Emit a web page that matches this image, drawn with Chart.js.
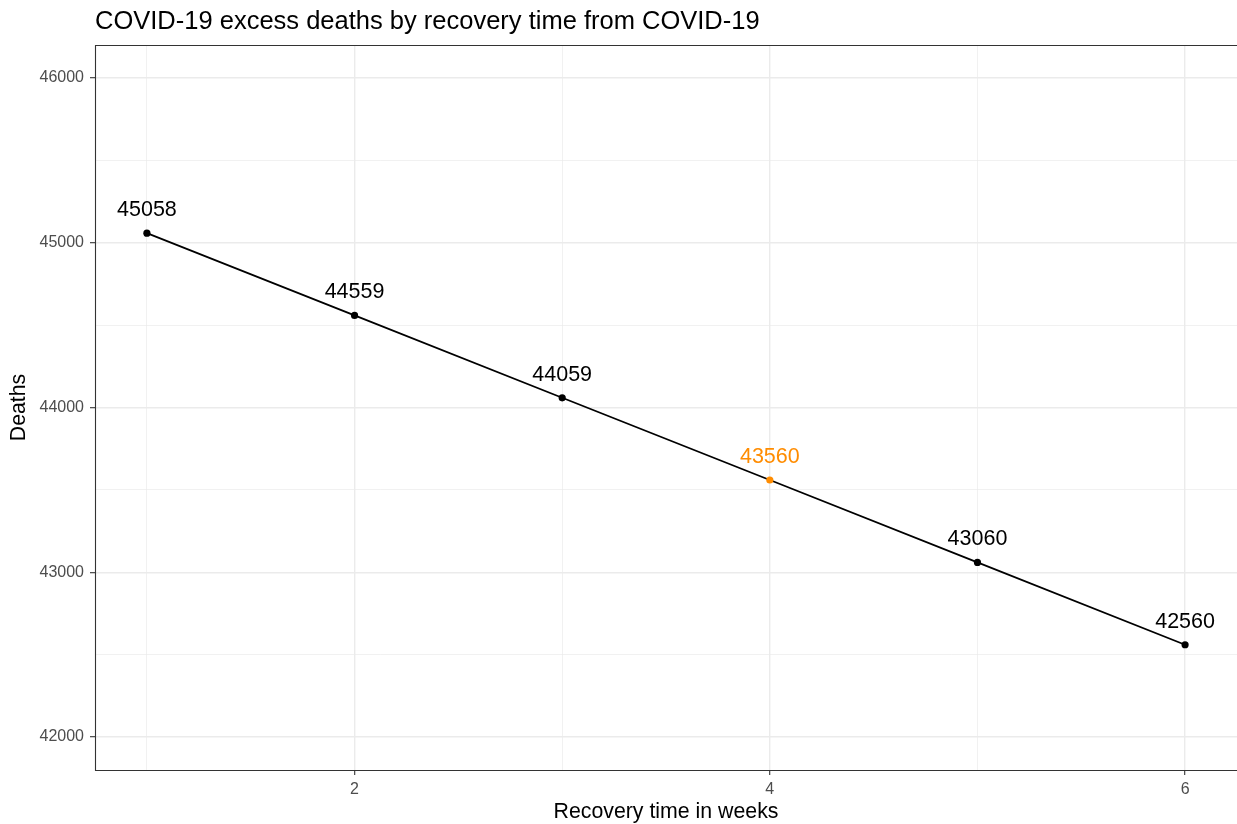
<!DOCTYPE html>
<html>
<head>
<meta charset="utf-8">
<script src="https://cdn.jsdelivr.net/npm/chart.js@4"></script>
<style>
  html, body { margin: 0; padding: 0; background: #fff; }
  canvas { display: block; }
</style>
</head>
<body>
<canvas id="lineChart" width="1237" height="824"></canvas>
<script>
// data
var weeks = [1, 2, 3, 4, 5, 6];
var deaths = [45058, 44559, 44059, 43560, 43060, 42560];
var highlightWeek = 4;
var xMajor = [2, 4, 6];
var xMinor = [1, 3, 5];
var yMajor = [42000, 43000, 44000, 45000, 46000];
var yMinor = [42500, 43500, 44500, 45500];

var FONT = "'Liberation Sans', Arial, sans-serif";
var ORANGE = 'rgb(255, 140, 0)';

var pointColors = weeks.map(function (w) { return w === highlightWeek ? ORANGE : '#000'; });

function byNum(a, b) { return a - b; }

var ggExtras = {
    id: 'ggExtras',
    afterDraw: function (chart) {
        var ctx = chart.ctx;
        var a = chart.chartArea;
        var meta = chart.getDatasetMeta(0);
        ctx.save();
        // panel border (right side falls off the canvas in the original)
        ctx.strokeStyle = '#333333';
        ctx.lineWidth = 1.1;
        ctx.beginPath();
        ctx.moveTo(chart.width, a.top + 0.5);
        ctx.lineTo(a.left + 0.5, a.top + 0.5);
        ctx.lineTo(a.left + 0.5, a.bottom + 0.5);
        ctx.lineTo(chart.width, a.bottom + 0.5);
        ctx.stroke();
        // value labels
        ctx.font = '21.5px ' + FONT;
        ctx.textAlign = 'center';
        ctx.textBaseline = 'middle';
        meta.data.forEach(function (pt, i) {
            ctx.fillStyle = pointColors[i];
            ctx.fillText(String(deaths[i]), pt.x, pt.y - 23);
        });
        // title
        ctx.fillStyle = '#000';
        ctx.textAlign = 'left';
        ctx.font = '25.5px ' + FONT;
        ctx.fillText('COVID-19 excess deaths by recovery time from COVID-19', 95, 22);
        // axis titles
        ctx.font = '21.3px ' + FONT;
        ctx.textAlign = 'center';
        ctx.fillText('Recovery time in weeks', (a.left + a.right) / 2, 812);
        ctx.translate(19, (a.top + a.bottom) / 2);
        ctx.rotate(-Math.PI / 2);
        ctx.fillText('Deaths', 0, 0);
        ctx.restore();
    }
};

function gridWidth(ctx, majors) {
    return majors.indexOf(ctx.tick.value) >= 0 ? 1.4 : 0.7;
}

var lineChart = new Chart(document.getElementById('lineChart'), {
    type: 'line',
    data: {
        datasets: [{
            data: weeks.map(function (w, i) { return { x: w, y: deaths[i] }; }),
            borderColor: '#000',
            borderWidth: 1.8,
            pointRadius: 3.6,
            pointBorderWidth: 0,
            pointBackgroundColor: pointColors,
            tension: 0
        }]
    },
    options: {
        responsive: false,
        animation: false,
        devicePixelRatio: 1,
        layout: { autoPadding: false, padding: { top: 45, right: -2, left: 0, bottom: 0 } },
        plugins: {
            legend: { display: false },
            tooltip: { enabled: false }
        },
        scales: {
            x: {
                type: 'linear',
                min: 0.75,
                max: 6.25,
                afterBuildTicks: function (s) {
                    s.ticks = xMinor.concat(xMajor).sort(byNum).map(function (v) { return { value: v }; });
                },
                afterFit: function (s) {
                    s.height = 54;
                    s.paddingLeft = 0;
                    s.paddingRight = 0;
                },
                border: { display: false },
                grid: {
                    color: '#EBEBEB',
                    lineWidth: function (c) { return gridWidth(c, xMajor); },
                    tickColor: function (c) { return xMajor.indexOf(c.tick.value) >= 0 ? '#333333' : 'rgba(0,0,0,0)'; },
                    tickLength: 5,
                    tickWidth: 1.1
                },
                ticks: {
                    color: '#4D4D4D',
                    font: { family: FONT, size: 16 },
                    padding: 5,
                    maxRotation: 0,
                    autoSkip: false,
                    callback: function (v) { return xMajor.indexOf(v) >= 0 ? String(v) : ''; }
                }
            },
            y: {
                type: 'linear',
                min: 41800,
                max: 46200,
                afterBuildTicks: function (s) {
                    s.ticks = yMinor.concat(yMajor).sort(byNum).map(function (v) { return { value: v }; });
                },
                afterFit: function (s) {
                    s.width = 95;
                    s.paddingTop = 0;
                    s.paddingBottom = 0;
                },
                border: { display: false },
                grid: {
                    color: '#EBEBEB',
                    lineWidth: function (c) { return gridWidth(c, yMajor); },
                    tickColor: function (c) { return yMajor.indexOf(c.tick.value) >= 0 ? '#333333' : 'rgba(0,0,0,0)'; },
                    tickLength: 5,
                    tickWidth: 1.1
                },
                ticks: {
                    color: '#4D4D4D',
                    font: { family: FONT, size: 16 },
                    padding: 6,
                    autoSkip: false,
                    callback: function (v) { return yMajor.indexOf(v) >= 0 ? String(v) : ''; }
                }
            }
        }
    },
    plugins: [ggExtras]
});
</script>
</body>
</html>
